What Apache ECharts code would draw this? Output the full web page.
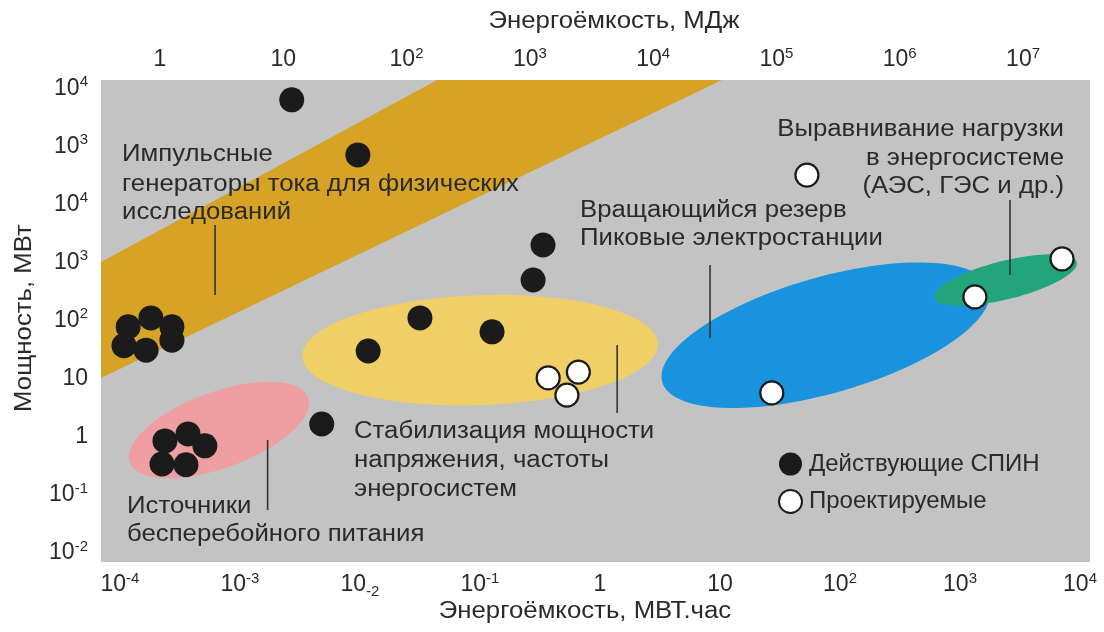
<!DOCTYPE html>
<html>
<head>
<meta charset="utf-8">
<script src="https://cdn.jsdelivr.net/npm/echarts@6/dist/echarts.min.js"></script>
<style>
  html, body { margin: 0; padding: 0; background: #ffffff; }
  #chart { width: 1104px; height: 632px; }
</style>
</head>
<body>
<div id="chart"></div>
<script>
// Energy capacity (MWh) and power (MW) of storage systems.
// Power values follow the drawn logarithmic scale from 10^-2 upward.

// Operating systems ("Действующие СПИН"): [energy, power]
const operatingEnergy = [2.7e-3, 9.6e-3, 0.335, 0.277, 0.0316, 0.126, 0.0117, 4.8e-3,
  1.81e-4, 1.17e-4, 2.71e-4, 2.71e-4, 1.08e-4, 1.65e-4,
  2.37e-4, 3.69e-4, 5.1e-4, 2.24e-4, 3.55e-4];
const operatingPower = [6.3e5, 7.1e4, 2000, 500, 111, 64, 30, 1.66,
  111, 78, 78, 46, 37, 31,
  0.85, 1.12, 0.7, 0.34, 0.33];

// Planned systems ("Проектируемые")
const plannedEnergy = [53, 0.37, 0.66, 0.53, 27, 1330, 7080];
const plannedPower = [3.2e4, 10.3, 13, 5.2, 5.7, 255, 1150];

// Tick labels ("^" = superscript, "_" = subscript)
const bottomTickLabels = ['10^-4', '10^-3', '10_-2', '10^-1', '1', '10', '10^2', '10^3', '10^4'];
const topTickLabels = ['1', '10', '10^2', '10^3', '10^4', '10^5', '10^6', '10^7'];
const leftTickLabels = ['10^-2', '10^-1', '1', '10', '10^2', '10^3', '10^4', '10^3', '10^4'];

// Application areas: band corners [energy, power]
const pulseBand = [[6.95e-5, 10.3], [6.95e-5, 1020], [0.0439, 1.38e6], [10.4, 1.38e6]];
// Ellipse areas: centre [energy, power], half-axes in decades, tilt in degrees
const zoneCentres = [[6.68e-4, 1.31], [0.1, 31], [76, 56], [2400, 500]];
const zoneHalfAxes = [[0.79, 0.317], [1.483, 0.458], [1.417, 0.483], [0.61, 0.16]];
const zoneTilts = [20, 2, 16, 14];
const zoneColors = ['#ef9fa2', '#f0cf66', '#1a93df', '#22a57a'];

// Pointer lines: [energy, power from, power to]
const pointers = [[6.2e-4, 4400, 276], [1.7e-3, 0.88, 0.055], [1.39, 38, 2.57],
  [8.26, 906, 50], [2610, 1.19e4, 610]];

const L = v => Math.log10(v);

function richLabel(s) {
  const m = s.match(/^(\d+)([\^_])(.+)$/);
  if (!m) return '{b|' + s + '}';
  return '{b|' + m[1] + '}' + (m[2] === '^' ? '{sup|' : '{sub|') + m[3] + '}';
}
const textColor = '#2a2a2a';
const font = 'Liberation Sans';
const tickRich = {
  b: { fontSize: 23, lineHeight: 28, color: textColor, fontFamily: font },
  sup: { fontSize: 15, lineHeight: 14, verticalAlign: 'top', color: textColor, fontFamily: font },
  sub: { fontSize: 15, lineHeight: 22, verticalAlign: 'bottom', color: textColor, fontFamily: font }
};

const chart = echarts.init(document.getElementById('chart'), null, { renderer: 'canvas' });

// captions use a slightly widened Arial-like face
function txt(x, y, text, align) {
  return {
    type: 'text', x: x, y: y, z: 100, scaleX: 1.12,
    style: { text: text, fill: textColor, font: '23px "' + font + '"', align: align || 'left',
      verticalAlign: 'middle' }
  };
}

const option = {
  animation: false,
  backgroundColor: '#ffffff',
  grid: { left: 101, right: 14, top: 80, bottom: 70, show: true, backgroundColor: '#c3c3c3', borderWidth: 0 },
  xAxis: [
    {
      type: 'value', position: 'bottom', min: -4.158, max: 4.083,
      axisLine: { show: false }, axisTick: { show: false }, splitLine: { show: false },
      axisLabel: {
        customValues: bottomTickLabels.map((_, i) => i - 4),
        margin: 9,
        formatter: v => richLabel(bottomTickLabels[Math.round(v) + 4]),
        rich: tickRich
      }
    },
    {
      type: 'value', position: 'top', min: -0.478, max: 7.543,
      axisLine: { show: false }, axisTick: { show: false }, splitLine: { show: false },
      axisLabel: {
        customValues: topTickLabels.map((_, i) => i),
        margin: 6,
        formatter: v => richLabel(topTickLabels[Math.round(v)]),
        rich: tickRich
      }
    }
  ],
  yAxis: {
    type: 'value', min: -2.155, max: 6.141,
    axisLine: { show: false }, axisTick: { show: false }, splitLine: { show: false },
    axisLabel: {
      customValues: leftTickLabels.map((_, i) => i - 2),
      margin: 13,
      formatter: v => richLabel(leftTickLabels[Math.round(v) + 2]),
      rich: tickRich
    }
  },
  legend: {
    orient: 'vertical', left: 773, top: 447, itemGap: 13,
    itemWidth: 23, itemHeight: 23, icon: 'circle',
    textStyle: { fontSize: 24, color: textColor, fontFamily: font, padding: [0, 0, 0, 2] },
    data: ['Действующие СПИН', 'Проектируемые']
  },
  graphic: [
    txt(122, 155, 'Импульсные'),
    txt(122, 185, 'генераторы тока для физических'),
    txt(122, 213, 'исследований'),
    txt(1064, 130, 'Выравнивание нагрузки', 'right'),
    txt(1064, 159, 'в энергосистеме', 'right'),
    txt(1064, 187, '(АЭС, ГЭС и др.)', 'right'),
    txt(580, 211, 'Вращающийся резерв'),
    txt(580, 239, 'Пиковые электростанции'),
    txt(354, 432, 'Стабилизация мощности'),
    txt(354, 461, 'напряжения, частоты'),
    txt(354, 490, 'энергосистем'),
    txt(127, 507, 'Источники'),
    txt(127, 535, 'бесперебойного питания'),
    txt(614, 22, 'Энергоёмкость, МДж', 'center'),
    txt(585, 612, 'Энергоёмкость, МВТ.час', 'center'),
    {
      type: 'text', x: 25, y: 318, rotation: Math.PI / 2, z: 100, scaleX: 1.12,
      style: { text: 'Мощность, МВт', fill: textColor, font: '23px "' + font + '"',
        align: 'center', verticalAlign: 'middle' }
    }
  ],
  series: [
    {
      // pulse generators band
      type: 'custom', coordinateSystem: 'cartesian2d', z: 1, silent: true,
      data: [[0, 0]],
      renderItem: function (params, api) {
        const pts = pulseBand.map(p => api.coord([L(p[0]), L(p[1])]));
        return { type: 'polygon', shape: { points: pts }, style: { fill: '#d6a327' } };
      }
    },
    {
      // elliptical application areas
      type: 'custom', coordinateSystem: 'cartesian2d', z: 2, silent: true,
      data: zoneCentres.map(c => [L(c[0]), L(c[1])]),
      renderItem: function (params, api) {
        const i = params.dataIndex;
        const c = api.coord([api.value(0), api.value(1)]);
        const perDec = api.size([1, 1])[0];
        const a = zoneHalfAxes[i][0] * perDec, b = zoneHalfAxes[i][1] * perDec;
        const t = zoneTilts[i] * Math.PI / 180;
        const pts = [];
        for (let k = 0; k < 96; k++) {
          const u = k / 96 * Math.PI * 2;
          const ex = a * Math.cos(u), ey = b * Math.sin(u);
          pts.push([c[0] + ex * Math.cos(t) + ey * Math.sin(t), c[1] - ex * Math.sin(t) + ey * Math.cos(t)]);
        }
        return { type: 'polygon', shape: { points: pts }, style: { fill: zoneColors[i] } };
      }
    },
    {
      // pointer lines from captions to areas
      type: 'custom', coordinateSystem: 'cartesian2d', z: 3, silent: true,
      data: pointers.map(p => [L(p[0]), L(p[1]), L(p[2])]),
      renderItem: function (params, api) {
        const p1 = api.coord([api.value(0), api.value(1)]);
        const p2 = api.coord([api.value(0), api.value(2)]);
        return { type: 'line', shape: { x1: p1[0], y1: p1[1], x2: p2[0], y2: p2[1] },
          style: { stroke: '#333333', lineWidth: 1.6 } };
      }
    },
    {
      name: 'Действующие СПИН', type: 'scatter', z: 5,
      symbol: 'circle', symbolSize: 25,
      itemStyle: { color: '#1b1b1b', opacity: 1 },
      data: operatingEnergy.map((e, i) => [L(e), L(operatingPower[i])])
    },
    {
      name: 'Проектируемые', type: 'scatter', z: 6,
      symbol: 'circle', symbolSize: 23,
      itemStyle: { color: '#ffffff', borderColor: '#1b1b1b', borderWidth: 2.2, opacity: 1 },
      data: plannedEnergy.map((e, i) => [L(e), L(plannedPower[i])])
    }
  ]
};

chart.setOption(option);
</script>
</body>
</html>
